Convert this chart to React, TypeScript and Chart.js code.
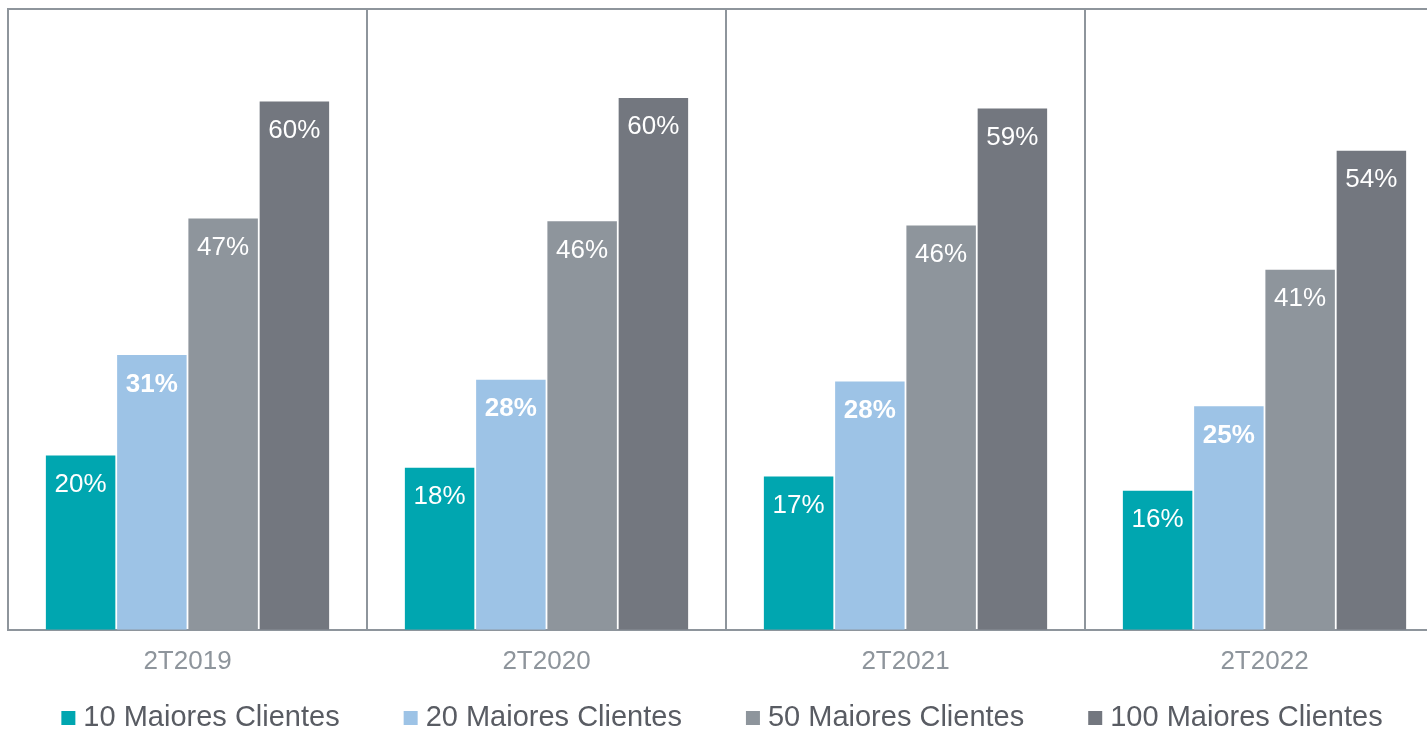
import React, { useEffect, useRef } from "react";
import { Chart, registerables } from "chart.js";

Chart.register(...registerables);

const categories = ["2T2019", "2T2020", "2T2021", "2T2022"];
const seriesNames = ["10 Maiores Clientes", "20 Maiores Clientes", "50 Maiores Clientes", "100 Maiores Clientes"];
const top10 = [19.8, 18.4, 17.4, 15.8];
const top20 = [31.2, 28.4, 28.2, 25.4];
const top50 = [46.7, 46.4, 45.9, 40.9];
const top100 = [60.0, 60.4, 59.2, 54.4];
const seriesColors = ["#00A6B0", "#9DC3E6", "#8E959C", "#73777F"];
const boldLabels = [false, true, false, false];
const yMax = 70.5;

const FONT = "'Liberation Sans', Arial, sans-serif";
const LINE = "#8E959C";

const valueLabels = {
  id: "valueLabels",
  afterDatasetsDraw(chart: any) {
    const ctx = chart.ctx;
    ctx.save();
    chart.data.datasets.forEach((ds: any, di: number) => {
      const meta = chart.getDatasetMeta(di);
      meta.data.forEach((el: any, i: number) => {
        const v = ds.data[i];
        ctx.font = `${boldLabels[di] ? "bold " : ""}26px ${FONT}`;
        ctx.fillStyle = "#FFFFFF";
        ctx.textAlign = "center";
        ctx.textBaseline = "alphabetic";
        ctx.fillText(`${Math.round(v)}%`, el.x, el.y + 36.5);
      });
    });
    ctx.restore();
  },
};

const frameAndLegend = {
  id: "frameAndLegend",
  afterDraw(chart: any) {
    const ctx = chart.ctx;
    const a = chart.chartArea;
    ctx.save();
    ctx.strokeStyle = LINE;
    ctx.lineWidth = 2;
    ctx.beginPath();
    ctx.moveTo(a.left - 1, a.top);
    ctx.lineTo(a.right, a.top);
    ctx.stroke();

    // legend
    ctx.font = `29px ${FONT}`;
    const box = 14;
    const gapText = 8;
    const gapItem = 64;
    const widths = chart.data.datasets.map((ds: any) => ctx.measureText(ds.label).width);
    const total = widths.reduce((s: number, w: number) => s + box + gapText + w, 0) + gapItem * (widths.length - 1);
    let x = 722 - total / 2;
    const baseline = chart.height - 3;
    chart.data.datasets.forEach((ds: any, i: number) => {
      ctx.fillStyle = ds.backgroundColor;
      ctx.fillRect(x, baseline - 15, box, box);
      ctx.fillStyle = "#595C63";
      ctx.textAlign = "left";
      ctx.textBaseline = "alphabetic";
      ctx.fillText(ds.label, x + box + gapText, baseline);
      x += box + gapText + widths[i] + gapItem;
    });
    ctx.restore();
  },
};

export default function App() {
  const ref = useRef<HTMLCanvasElement>(null);
  useEffect(() => {
    if (!ref.current) return;
    const seriesData = [top10, top20, top50, top100];
    const chart = new Chart(ref.current, {
      type: "bar",
      data: {
        labels: categories,
        datasets: seriesNames.map((name, i) => ({
          label: name,
          data: seriesData[i],
          backgroundColor: seriesColors[i],
          borderWidth: 0,
          categoryPercentage: 0.794,
          barPercentage: 0.975,
        })),
      },
      options: {
        responsive: false,
        animation: false,
        devicePixelRatio: 1,
        layout: { padding: { left: 8, right: 8, top: 9, bottom: 36 } },
        plugins: {
          legend: { display: false },
          tooltip: { enabled: false },
        },
        scales: {
          x: {
            grid: { color: LINE, lineWidth: 2, drawTicks: false, offset: true },
            border: { color: LINE, width: 2 },
            ticks: { color: "#8E959C", font: { size: 26, family: FONT }, padding: 16 },
          },
          y: {
            display: false,
            min: 0,
            max: yMax,
          },
        },
      },
      plugins: [valueLabels, frameAndLegend],
    });
    return () => chart.destroy();
  }, []);
  return (
    <div style={{ position: "absolute", left: 0, top: 0, width: 1427, height: 729, overflow: "hidden", background: "#fff" }}>
      <canvas ref={ref} width={1452} height={729} style={{ display: "block" }} />
    </div>
  );
}
